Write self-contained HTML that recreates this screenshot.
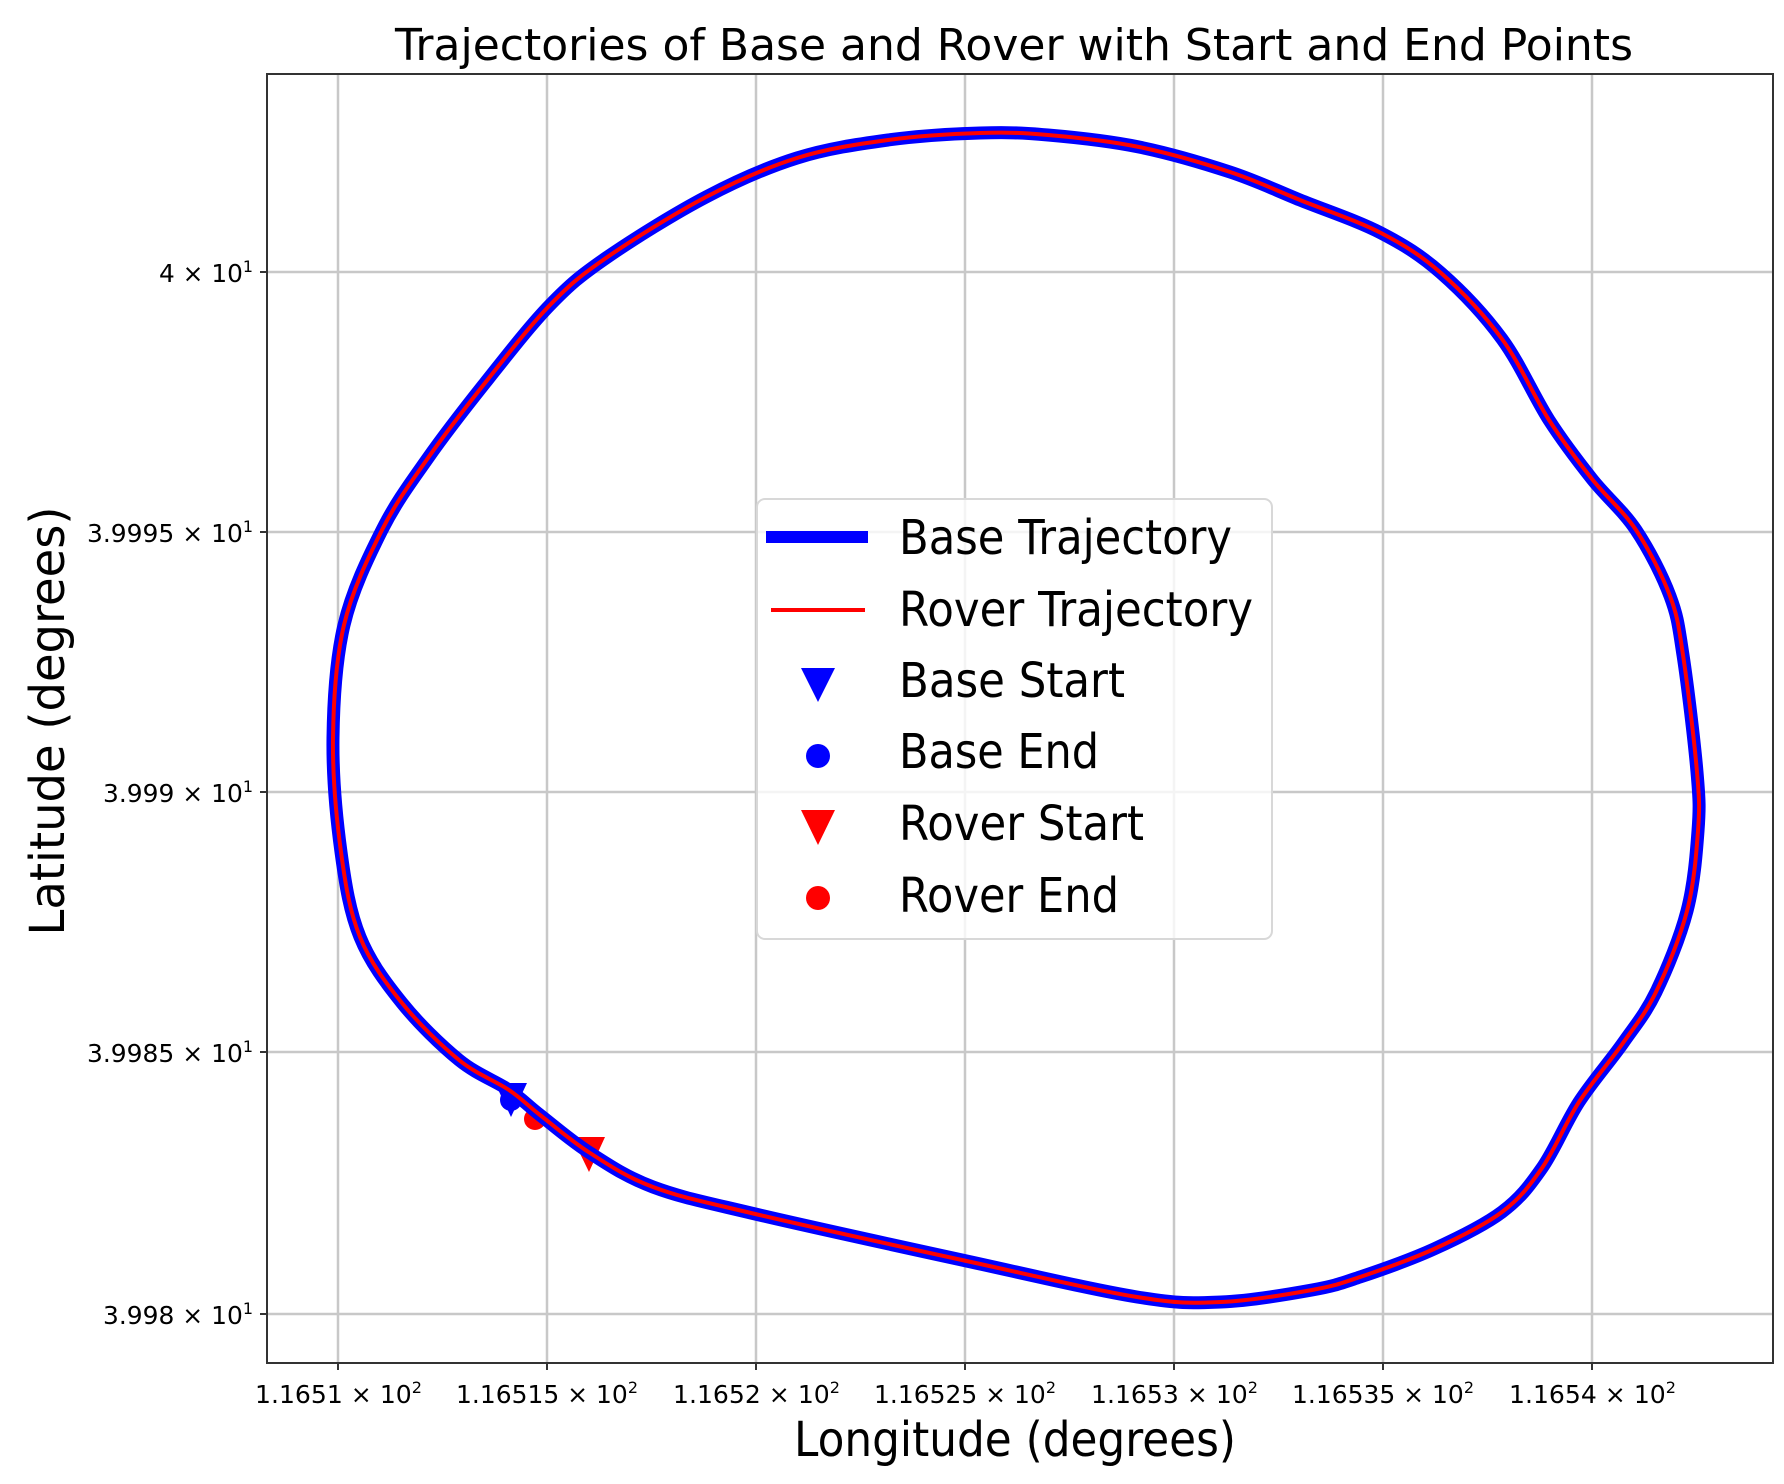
<!DOCTYPE html>
<html><head><meta charset="utf-8"><style>html,body{margin:0;padding:0;background:#fff}svg{display:block}</style></head>
<body>
<svg width="1784" height="1484" viewBox="0 0 1784 1484" xmlns="http://www.w3.org/2000/svg" font-family="DejaVu Sans, Liberation Sans, sans-serif">
<rect width="1784" height="1484" fill="#fff"/>
<text x="1014" y="60" font-size="44" text-anchor="middle" textLength="1238" lengthAdjust="spacingAndGlyphs" fill="#000">Trajectories of Base and Rover with Start and End Points</text>
<g stroke="#c8c8c8" stroke-width="2.5">
<line x1="338" y1="74" x2="338" y2="1363"/><line x1="547" y1="74" x2="547" y2="1363"/><line x1="756" y1="74" x2="756" y2="1363"/><line x1="965" y1="74" x2="965" y2="1363"/><line x1="1174" y1="74" x2="1174" y2="1363"/><line x1="1383" y1="74" x2="1383" y2="1363"/><line x1="1592" y1="74" x2="1592" y2="1363"/>
<line x1="267" y1="272" x2="1773" y2="272"/><line x1="267" y1="532" x2="1773" y2="532"/><line x1="267" y1="792" x2="1773" y2="792"/><line x1="267" y1="1052" x2="1773" y2="1052"/><line x1="267" y1="1314" x2="1773" y2="1314"/>
</g>
<polygon points="495,1083 527,1083 511,1117" fill="#0000ff"/>
<circle cx="511" cy="1100" r="11" fill="#0000ff"/>
<polygon points="572,1137 605,1137 589,1172" fill="#ff0000"/>
<circle cx="535" cy="1119" r="11" fill="#ff0000"/>
<g fill="none" stroke-linejoin="round" stroke-linecap="round">
<path id="pb" stroke="#0000ff" stroke-width="13" d=""/>
<path id="pr" stroke="#ff0000" stroke-width="4" d=""/>
</g>
<rect x="267" y="74" width="1506" height="1289" fill="none" stroke="#333" stroke-width="2"/>
<g stroke="#333" stroke-width="2">
<line x1="338" y1="1363" x2="338" y2="1370"/><line x1="547" y1="1363" x2="547" y2="1370"/><line x1="756" y1="1363" x2="756" y2="1370"/><line x1="965" y1="1363" x2="965" y2="1370"/><line x1="1174" y1="1363" x2="1174" y2="1370"/><line x1="1383" y1="1363" x2="1383" y2="1370"/><line x1="1592" y1="1363" x2="1592" y2="1370"/>
<line x1="260" y1="272" x2="267" y2="272"/><line x1="260" y1="532" x2="267" y2="532"/><line x1="260" y1="792" x2="267" y2="792"/><line x1="260" y1="1052" x2="267" y2="1052"/><line x1="260" y1="1314" x2="267" y2="1314"/>
</g>
<g font-size="25" fill="#000">
<text x="159" y="282" textLength="94" lengthAdjust="spacingAndGlyphs">4 × 10<tspan font-size="16" dy="-10">1</tspan></text>
<text x="87" y="542" textLength="166" lengthAdjust="spacingAndGlyphs">3.9995 × 10<tspan font-size="16" dy="-10">1</tspan></text>
<text x="103" y="802" textLength="150" lengthAdjust="spacingAndGlyphs">3.999 × 10<tspan font-size="16" dy="-10">1</tspan></text>
<text x="87" y="1062" textLength="166" lengthAdjust="spacingAndGlyphs">3.9985 × 10<tspan font-size="16" dy="-10">1</tspan></text>
<text x="103" y="1324" textLength="150" lengthAdjust="spacingAndGlyphs">3.998 × 10<tspan font-size="16" dy="-10">1</tspan></text>
</g>
<g font-size="25" fill="#000">
<text x="255" y="1403" textLength="167" lengthAdjust="spacingAndGlyphs">1.1651 × 10<tspan font-size="16" dy="-10">2</tspan></text>
<text x="456" y="1403" textLength="182" lengthAdjust="spacingAndGlyphs">1.16515 × 10<tspan font-size="16" dy="-10">2</tspan></text>
<text x="673" y="1403" textLength="167" lengthAdjust="spacingAndGlyphs">1.1652 × 10<tspan font-size="16" dy="-10">2</tspan></text>
<text x="874" y="1403" textLength="182" lengthAdjust="spacingAndGlyphs">1.16525 × 10<tspan font-size="16" dy="-10">2</tspan></text>
<text x="1091" y="1403" textLength="167" lengthAdjust="spacingAndGlyphs">1.1653 × 10<tspan font-size="16" dy="-10">2</tspan></text>
<text x="1292" y="1403" textLength="182" lengthAdjust="spacingAndGlyphs">1.16535 × 10<tspan font-size="16" dy="-10">2</tspan></text>
<text x="1509" y="1403" textLength="167" lengthAdjust="spacingAndGlyphs">1.1654 × 10<tspan font-size="16" dy="-10">2</tspan></text>
</g>
<text x="1015" y="1456" font-size="48" text-anchor="middle" textLength="442" lengthAdjust="spacingAndGlyphs">Longitude (degrees)</text>
<text transform="translate(64,721) rotate(-90)" x="0" y="0" font-size="48" text-anchor="middle" textLength="429" lengthAdjust="spacingAndGlyphs">Latitude (degrees)</text>
<rect x="757" y="499" width="515" height="440" rx="8" fill="#fff" fill-opacity="0.8" stroke="#d8d8d8" stroke-width="2"/>
<line x1="766" y1="537" x2="868" y2="537" stroke="#0000ff" stroke-width="12"/>
<line x1="771" y1="610" x2="865" y2="610" stroke="#ff0000" stroke-width="4"/>
<polygon points="801,668 835,668 818,702" fill="#0000ff"/>
<circle cx="818" cy="756" r="12" fill="#0000ff"/>
<polygon points="801,810 835,810 818,845" fill="#ff0000"/>
<circle cx="818" cy="898" r="12" fill="#ff0000"/>
<g font-size="48" fill="#000">
<text x="899" y="554" textLength="333" lengthAdjust="spacingAndGlyphs">Base Trajectory</text>
<text x="899" y="626" textLength="354" lengthAdjust="spacingAndGlyphs">Rover Trajectory</text>
<text x="899" y="697" textLength="226" lengthAdjust="spacingAndGlyphs">Base Start</text>
<text x="899" y="768" textLength="200" lengthAdjust="spacingAndGlyphs">Base End</text>
<text x="899" y="840" textLength="245" lengthAdjust="spacingAndGlyphs">Rover Start</text>
<text x="899" y="912" textLength="220" lengthAdjust="spacingAndGlyphs">Rover End</text>
</g>
</svg>
<script>
(function(){
var p=[509,1090,459,1060,402,1003,360,937,341,852,333,738,344,625,382,530,428,458,485,383,550,305,606,258,706,197,797,158,888,140,980,133,1048,135,1139,147,1230,172,1300,200,1381,233,1441,273,1502,339,1549,420,1592,479,1636,530,1670,596,1683,655,1697,772,1698,831,1687,911,1656,992,1623,1043,1579,1102,1542,1168,1502,1212,1434,1249,1360,1277,1312,1290,1221,1302,1137,1297,962,1260,751,1213,653,1187,590,1153,540,1115];
var n=p.length/2,P=[];for(var i=0;i<n;i++)P.push([p[2*i],p[2*i+1]]);
var d="M"+P[0][0]+","+P[0][1];
for(var i=0;i<n;i++){var a=P[(i-1+n)%n],b=P[i],c=P[(i+1)%n],e=P[(i+2)%n];
d+=" C"+(b[0]+(c[0]-a[0])/6).toFixed(1)+","+(b[1]+(c[1]-a[1])/6).toFixed(1)+" "+(c[0]-(e[0]-b[0])/6).toFixed(1)+","+(c[1]-(e[1]-b[1])/6).toFixed(1)+" "+c[0]+","+c[1];}
document.getElementById("pb").setAttribute("d",d);
document.getElementById("pr").setAttribute("d",d);
})();
</script>
</body></html>
